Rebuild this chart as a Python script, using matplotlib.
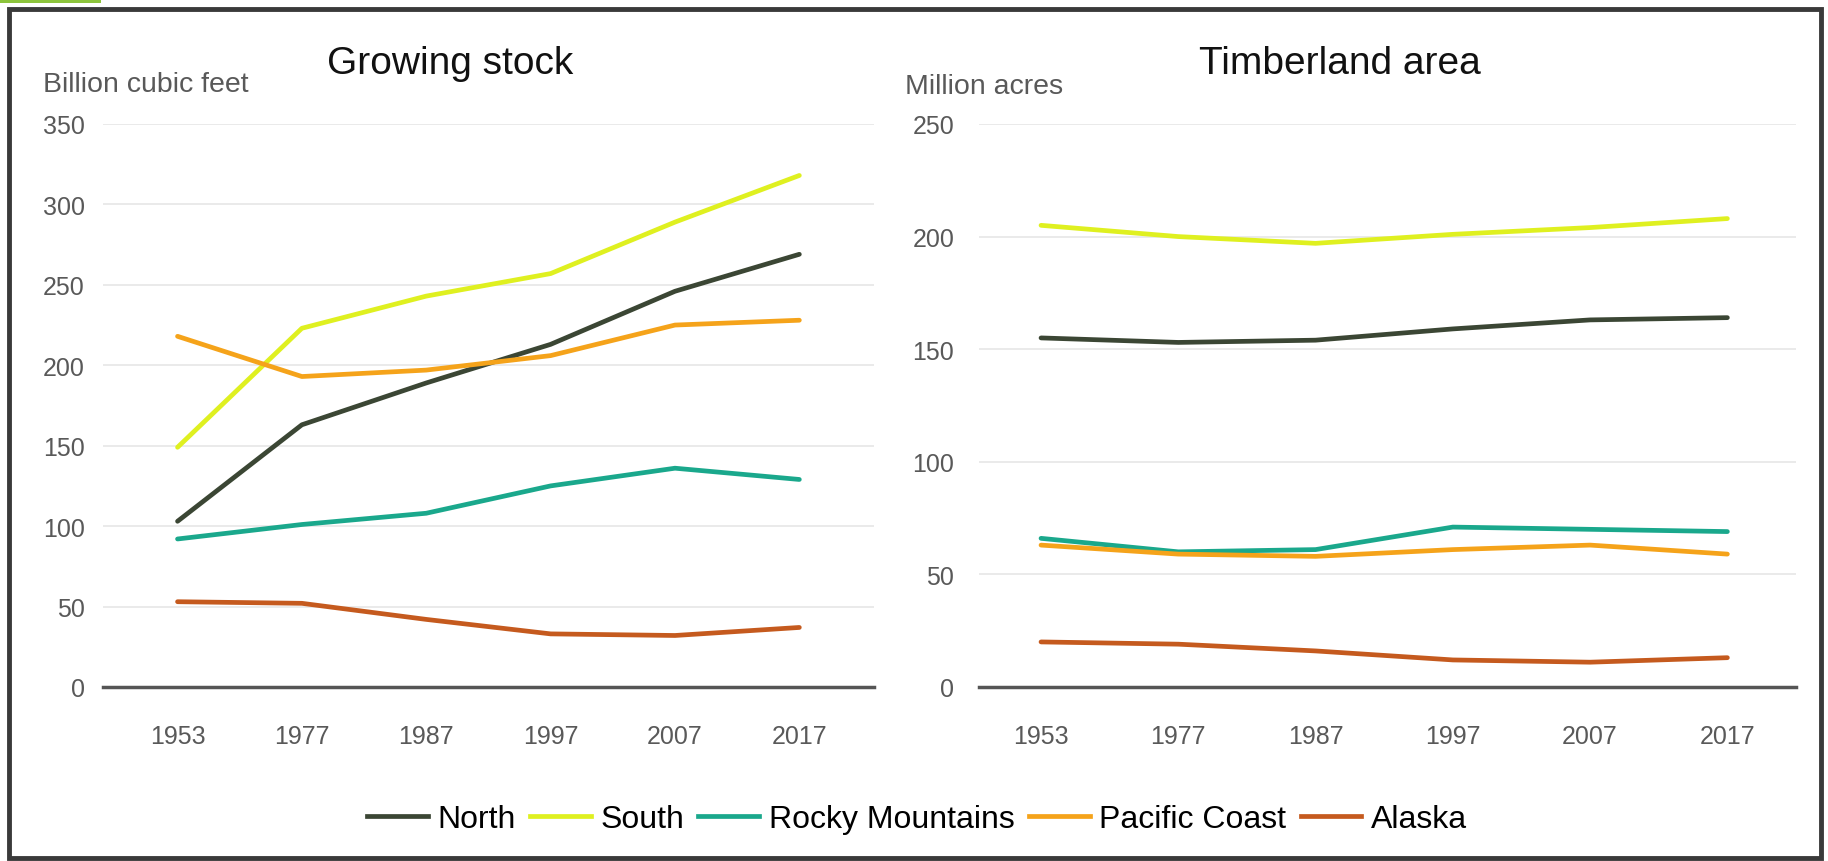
import matplotlib.pyplot as plt
from matplotlib.patches import Rectangle
from matplotlib.lines import Line2D

plt.rcParams['font.family'] = ['Liberation Sans', 'DejaVu Sans']

years = ['1953', '1977', '1987', '1997', '2007', '2017']
regions = ['North', 'South', 'Rocky Mountains', 'Pacific Coast', 'Alaska']
colors = ['#3b4634', '#dff020', '#1aa88c', '#f5a31a', '#c55a1e']

# Growing stock, billion cubic feet
stock_north = [103, 163, 189, 213, 246, 269]
stock_south = [149, 223, 243, 257, 289, 318]
stock_rocky = [92, 101, 108, 125, 136, 129]
stock_pacific = [218, 193, 197, 206, 225, 228]
stock_alaska = [53, 52, 42, 33, 32, 37]

# Timberland area, million acres
area_north = [155, 153, 154, 159, 163, 164]
area_south = [205, 200, 197, 201, 204, 208]
area_rocky = [66, 60, 61, 71, 70, 69]
area_pacific = [63, 59, 58, 61, 63, 59]
area_alaska = [20, 19, 16, 12, 11, 13]

stock = [stock_north, stock_south, stock_rocky, stock_pacific, stock_alaska]
area = [area_north, area_south, area_rocky, area_pacific, area_alaska]

fig = plt.figure(figsize=(18.28, 8.62), dpi=100)

# outer frame and the little green tab
fig.patches.append(Rectangle((0.005, 0.003), 0.991, 0.985, transform=fig.transFigure,
                             fill=False, edgecolor='#3a3a3a', linewidth=3.5))
fig.patches.append(Rectangle((0.0, 0.995), 0.055, 0.005, transform=fig.transFigure,
                             facecolor='#8cc43c', edgecolor='none'))

ax1 = fig.add_axes([0.0563, 0.2019, 0.4218, 0.6531])
ax2 = fig.add_axes([0.5357, 0.2019, 0.4468, 0.6531])

def style(ax, ymax, step, ypad):
    ax.set_ylim(0, ymax)
    ax.set_yticks(range(0, ymax + 1, step))
    ax.set_xlim(-0.6, 5.6)
    ax.set_xticks(range(len(years)))
    ax.set_xticklabels(years)
    ax.grid(axis='y', color='#e6e6e6', linewidth=1.2)
    ax.set_axisbelow(True)
    for s in ['top', 'right', 'left']:
        ax.spines[s].set_visible(False)
    ax.spines['bottom'].set_color('#555555')
    ax.spines['bottom'].set_linewidth(2.5)
    ax.tick_params(axis='both', length=0, labelsize=18, labelcolor='#595959')
    ax.tick_params(axis='x', pad=27)
    ax.tick_params(axis='y', pad=ypad)

for vals, c in zip(stock, colors):
    ax1.plot(range(len(years)), vals, color=c, linewidth=3.4, solid_capstyle='round')
for vals, c in zip(area, colors):
    ax2.plot(range(len(years)), vals, color=c, linewidth=3.4, solid_capstyle='round')

style(ax1, 350, 50, 13)
style(ax2, 250, 50, 18)
ax2.set_xlim(-0.45, 5.5)

fig.text(0.2462, 0.926, 'Growing stock', ha='center', va='center', fontsize=28, color='#111111')
fig.text(0.7330, 0.926, 'Timberland area', ha='center', va='center', fontsize=28, color='#111111')
fig.text(0.0235, 0.901, 'Billion cubic feet', ha='left', va='center', fontsize=20.5, color='#595959')
fig.text(0.4950, 0.899, 'Million acres', ha='left', va='center', fontsize=20.5, color='#595959')

handles = [Line2D([0], [0], color=c, linewidth=3.4) for c in colors]
fig.legend(handles, regions, loc='center', bbox_to_anchor=(0.5016, 0.049), ncol=5,
           frameon=False, fontsize=23, handlelength=1.9, handletextpad=0.3, columnspacing=0.45)

fig.savefig('out.png', dpi=100)
